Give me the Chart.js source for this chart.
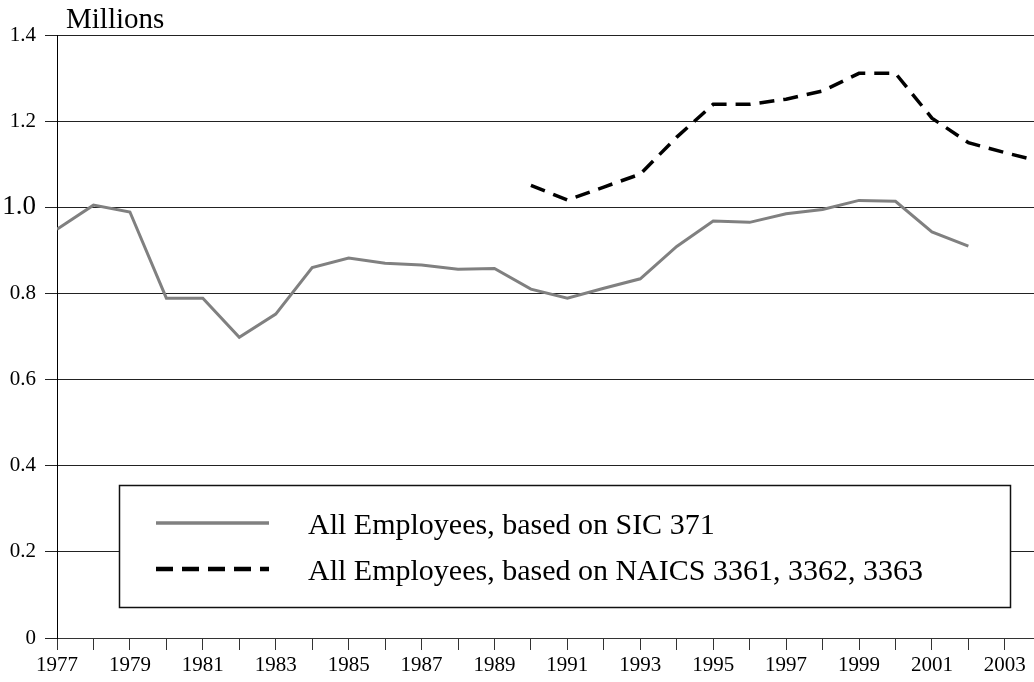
<!DOCTYPE html>
<html>
<head>
<meta charset="utf-8">
<script src="https://cdn.jsdelivr.net/npm/chart.js@4.4.1/dist/chart.umd.min.js"></script>
<style>
  html, body { margin: 0; padding: 0; background: #fff; }
  #wrap { width: 1034px; height: 682px; position: relative; }
</style>
</head>
<body>
<div id="wrap"><canvas id="emp-chart"></canvas></div>
<script>
// Employment, millions
const years = [1977, 1978, 1979, 1980, 1981, 1982, 1983, 1984, 1985, 1986, 1987, 1988, 1989, 1990,
  1991, 1992, 1993, 1994, 1995, 1996, 1997, 1998, 1999, 2000, 2001, 2002, 2003, 2004];

const sicValues = [0.949, 1.005, 0.989, 0.789, 0.789, 0.698, 0.752, 0.860, 0.882, 0.870, 0.866, 0.856,
  0.858, 0.810, 0.789, 0.812, 0.834, 0.909, 0.968, 0.965, 0.985, 0.995, 1.016, 1.014, 0.943, 0.910,
  null, null];

const naicsValues = [null, null, null, null, null, null, null, null, null, null, null, null, null,
  1.051, 1.017, 1.047, 1.077, 1.163, 1.239, 1.239, 1.251, 1.270, 1.311, 1.311, 1.207, 1.150,
  1.127, 1.106];

const yTicks = [0, 0.2, 0.4, 0.6, 0.8, 1.0, 1.2, 1.4];

const seriesNames = [
  "All Employees, based on SIC 371",
  "All Employees, based on NAICS 3361, 3362, 3363",
];

const serif = "'Liberation Serif', 'Times New Roman', serif";

function toPoints(values) {
  return years.map((yr, i) => ({ x: yr, y: values[i] }));
}

// box legend + "Millions" label
const annotations = {
  id: "annotations",
  afterDraw(chart) {
    const ctx = chart.ctx;
    ctx.save();
    ctx.fillStyle = "#000";
    ctx.font = "29px " + serif;
    ctx.textBaseline = "alphabetic";
    ctx.fillText("Millions", 66, 28);

    ctx.fillStyle = "#fff";
    ctx.fillRect(119, 485, 891, 122);
    ctx.strokeStyle = "#111";
    ctx.lineWidth = 1.5;
    ctx.strokeRect(119.5, 485.5, 891, 122);

    ctx.lineWidth = 3.5;
    ctx.strokeStyle = "#808080";
    ctx.beginPath();
    ctx.moveTo(156, 523);
    ctx.lineTo(269, 523);
    ctx.stroke();

    ctx.lineWidth = 4.5;
    ctx.strokeStyle = "#000";
    ctx.setLineDash([17, 9]);
    ctx.beginPath();
    ctx.moveTo(156, 569);
    ctx.lineTo(269, 569);
    ctx.stroke();
    ctx.setLineDash([]);

    ctx.fillStyle = "#000";
    ctx.font = "30px " + serif;
    ctx.fillText(seriesNames[0], 308, 534);
    ctx.fillText(seriesNames[1], 308, 580);
    ctx.restore();
  },
};

const empCanvas = document.getElementById("emp-chart");

let empChart = new Chart(empCanvas, {
  type: "line",
  data: {
    datasets: [
      {
        label: seriesNames[0],
        data: toPoints(sicValues),
        borderColor: "#808080",
        borderWidth: 3,
        pointRadius: 0,
        tension: 0,
      },
      {
        label: seriesNames[1],
        data: toPoints(naicsValues),
        borderColor: "#000",
        borderWidth: 3.5,
        borderDash: [15, 9],
        pointRadius: 0,
        tension: 0,
      },
    ],
  },
  options: {
    responsive: true,
    maintainAspectRatio: false,
    animation: false,
    layout: {
      padding: { top: 35, right: 0, left: 0, bottom: 0 },
    },
    plugins: {
      legend: { display: false },
      tooltip: { enabled: false },
    },
    scales: {
      x: {
        type: "linear",
        min: 1977,
        max: 2003.8,
        afterFit: (scale) => {
          scale.height = 44;
        },
        grid: {
          drawOnChartArea: false,
          drawTicks: true,
          tickLength: 12,
          color: "#333",
        },
        border: { color: "#333", width: 1 },
        ticks: {
          stepSize: 1,
          includeBounds: false,
          autoSkip: false,
          maxRotation: 0,
          padding: 3,
          color: "#000",
          font: { family: serif, size: 21 },
          callback: (v) => (v % 2 === 1 ? String(v) : ""),
        },
      },
      y: {
        min: 0,
        max: 1.4,
        afterFit: (scale) => {
          scale.width = 57;
        },
        afterBuildTicks: (scale) => {
          scale.ticks = yTicks.map((v) => ({ value: v }));
        },
        grid: {
          color: "#222",
          tickLength: 12,
        },
        border: { color: "#000", width: 1 },
        ticks: {
          padding: 9,
          color: "#000",
          font: (c) => ({ family: serif, size: c.tick && c.tick.value === 1 ? 27 : 21 }),
          callback: (v) => (v === 0 ? "0" : v.toFixed(1)),
        },
      },
    },
  },
  plugins: [annotations],
});
</script>
</body>
</html>
